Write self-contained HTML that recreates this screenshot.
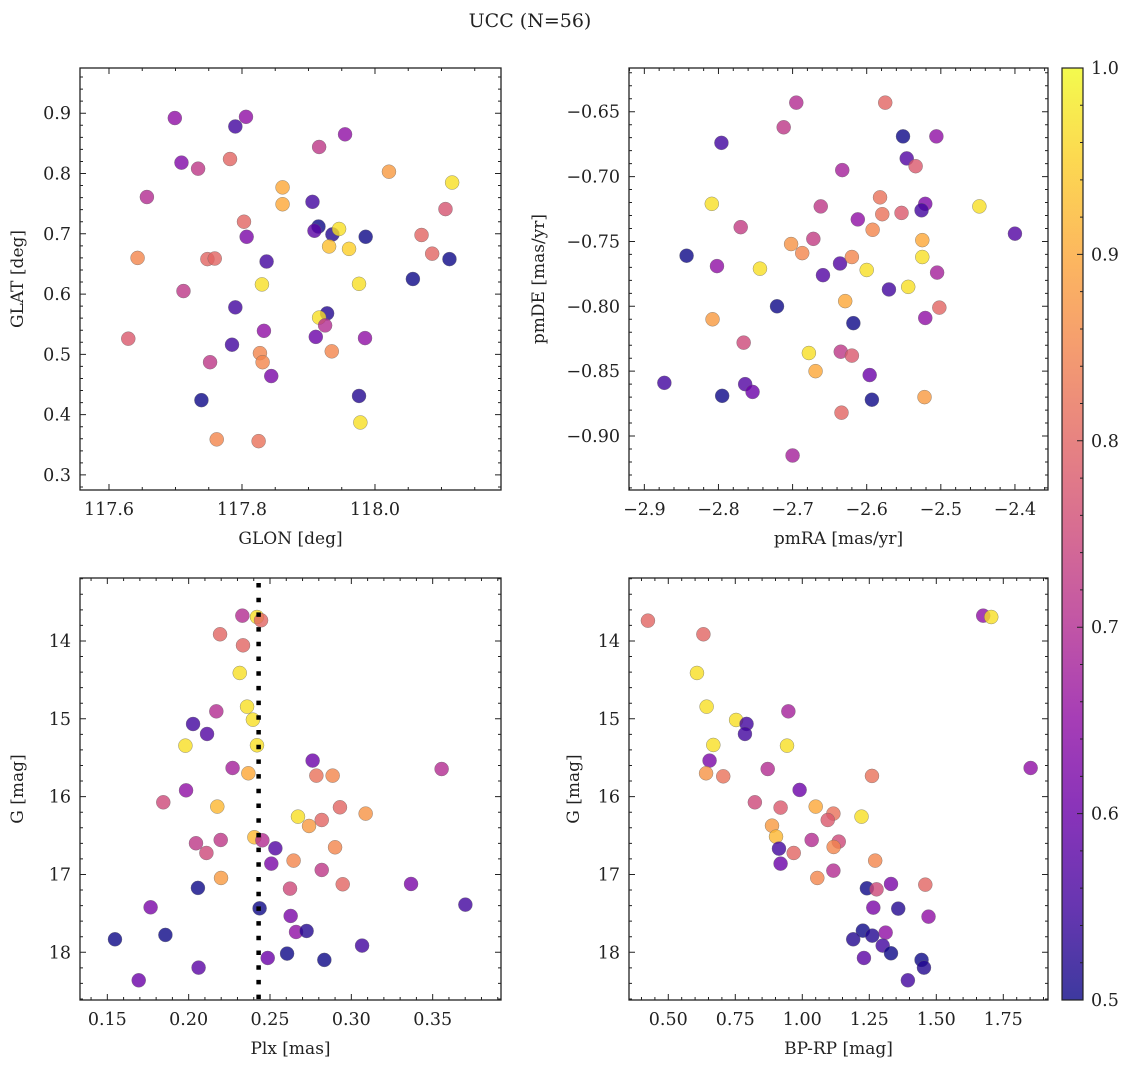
<!DOCTYPE html>
<html><head><meta charset="utf-8"><title>UCC (N=56)</title>
<style>
html,body{margin:0;padding:0;background:#fff;}
svg text{font-family:"DejaVu Serif","Liberation Serif",serif;fill:#222;}
</style></head>
<body>
<svg id="fig" width="1136" height="1067" viewBox="0 0 1136 1067" xmlns="http://www.w3.org/2000/svg">
<defs>
<linearGradient id="cbgrad" x1="0" y1="1" x2="0" y2="0">
<stop offset="0" stop-color="#0d0887"/><stop offset="0.1" stop-color="#41049d"/><stop offset="0.2" stop-color="#6a00a8"/><stop offset="0.3" stop-color="#8f0da4"/><stop offset="0.4" stop-color="#b12a90"/><stop offset="0.5" stop-color="#cc4778"/><stop offset="0.6" stop-color="#e16462"/><stop offset="0.7" stop-color="#f2844b"/><stop offset="0.8" stop-color="#fca636"/><stop offset="0.9" stop-color="#fcce25"/><stop offset="1" stop-color="#f0f921"/>
</linearGradient>
</defs>
<text x="530" y="27" text-anchor="middle" font-size="19">UCC (N=56)</text>
</svg>
<script>
// ---- Panel 1: GLON vs GLAT ----
const glon = [117.699,117.806,117.790,117.709,117.734,117.782,117.657,117.916,117.955,118.021,118.116,117.861,117.906,117.861,117.803,117.807,118.106,118.070,117.915,117.909,117.936,117.946,117.931,117.961,117.986,118.086,118.112,117.643,117.748,117.759,117.837,117.830,117.976,118.057,117.712,117.790,117.833,117.928,117.916,117.925,117.911,117.985,117.785,117.827,117.831,117.935,117.629,117.752,117.844,117.976,117.739,117.978,117.762,117.825];
const glat = [0.892,0.894,0.878,0.818,0.808,0.824,0.761,0.844,0.865,0.803,0.785,0.777,0.753,0.749,0.720,0.695,0.741,0.698,0.712,0.705,0.699,0.708,0.679,0.675,0.695,0.667,0.658,0.660,0.658,0.659,0.654,0.616,0.617,0.625,0.605,0.578,0.539,0.568,0.561,0.548,0.529,0.527,0.516,0.502,0.487,0.505,0.526,0.487,0.464,0.431,0.424,0.387,0.359,0.356];
const prob1 = [0.65,0.65,0.55,0.63,0.72,0.8,0.7,0.72,0.65,0.88,0.97,0.9,0.55,0.9,0.8,0.62,0.77,0.8,0.5,0.58,0.52,0.97,0.93,0.95,0.5,0.8,0.5,0.85,0.8,0.8,0.55,0.97,0.97,0.5,0.72,0.55,0.65,0.52,0.97,0.7,0.6,0.65,0.55,0.85,0.85,0.85,0.78,0.72,0.62,0.52,0.5,0.97,0.85,0.82];
// ---- Panel 2: pmRA vs pmDE ----
const pmra = [-2.695,-2.712,-2.575,-2.796,-2.551,-2.506,-2.546,-2.534,-2.633,-2.809,-2.448,-2.400,-2.582,-2.521,-2.526,-2.553,-2.579,-2.662,-2.612,-2.770,-2.592,-2.525,-2.672,-2.702,-2.687,-2.843,-2.802,-2.744,-2.636,-2.620,-2.525,-2.659,-2.600,-2.505,-2.570,-2.544,-2.629,-2.721,-2.502,-2.808,-2.618,-2.521,-2.766,-2.678,-2.635,-2.620,-2.669,-2.596,-2.873,-2.764,-2.754,-2.795,-2.593,-2.522,-2.634,-2.700];
const pmde = [-0.643,-0.662,-0.643,-0.674,-0.669,-0.669,-0.686,-0.692,-0.695,-0.721,-0.723,-0.744,-0.716,-0.721,-0.726,-0.728,-0.729,-0.723,-0.733,-0.739,-0.741,-0.749,-0.748,-0.752,-0.759,-0.761,-0.769,-0.771,-0.767,-0.762,-0.762,-0.776,-0.772,-0.774,-0.787,-0.785,-0.796,-0.800,-0.801,-0.810,-0.813,-0.809,-0.828,-0.836,-0.835,-0.838,-0.850,-0.853,-0.859,-0.860,-0.866,-0.869,-0.872,-0.870,-0.882,-0.915];
const prob2 = [0.7,0.72,0.8,0.55,0.5,0.65,0.57,0.78,0.68,0.97,0.97,0.57,0.82,0.62,0.55,0.78,0.82,0.72,0.65,0.73,0.85,0.9,0.73,0.87,0.85,0.5,0.65,0.97,0.57,0.85,0.97,0.57,0.97,0.68,0.55,0.97,0.9,0.5,0.8,0.88,0.5,0.65,0.75,0.97,0.72,0.78,0.9,0.6,0.55,0.57,0.6,0.5,0.5,0.88,0.8,0.68];
// ---- Panel 3: Plx vs G ----
const plx = [0.2330,0.2420,0.2445,0.2193,0.2334,0.2314,0.2359,0.2170,0.2027,0.2113,0.2395,0.2420,0.1980,0.2270,0.2367,0.2762,0.3555,0.2785,0.2885,0.1984,0.1844,0.2176,0.2930,0.3088,0.2672,0.2818,0.2740,0.2404,0.2453,0.2045,0.2197,0.2109,0.2900,0.2533,0.2645,0.2508,0.2818,0.2199,0.2947,0.2623,0.3367,0.2057,0.1766,0.2436,0.3701,0.2627,0.2660,0.2725,0.1547,0.1857,0.3066,0.2605,0.2486,0.2834,0.2061,0.1693];
const gmag3 = [13.675,13.692,13.734,13.914,14.056,14.411,14.844,14.904,15.067,15.195,15.011,15.340,15.345,15.632,15.700,15.537,15.645,15.730,15.730,15.919,16.073,16.128,16.137,16.218,16.257,16.300,16.377,16.522,16.561,16.599,16.557,16.724,16.651,16.664,16.822,16.861,16.942,17.045,17.126,17.182,17.122,17.173,17.422,17.435,17.388,17.533,17.739,17.726,17.833,17.777,17.914,18.017,18.073,18.098,18.197,18.360];
const prob3 = [0.7,0.97,0.8,0.8,0.8,0.97,0.97,0.7,0.55,0.57,0.97,0.97,0.97,0.68,0.9,0.6,0.7,0.82,0.85,0.65,0.75,0.92,0.8,0.87,0.97,0.8,0.88,0.92,0.7,0.72,0.72,0.75,0.85,0.57,0.85,0.62,0.72,0.88,0.8,0.75,0.62,0.5,0.62,0.5,0.55,0.62,0.65,0.52,0.5,0.5,0.55,0.5,0.6,0.5,0.58,0.6];
const plxCut = [0.243];
// ---- Panel 4: BP-RP vs G ----
const bprp = [0.424,0.631,0.607,0.643,0.753,0.792,0.786,0.668,0.948,0.943,0.654,0.641,0.705,0.871,0.990,1.260,0.823,0.919,1.050,1.116,1.095,1.221,0.887,0.902,1.035,1.136,1.117,0.913,0.968,0.919,1.116,1.056,1.272,1.241,1.277,1.331,1.459,1.265,1.358,1.471,1.311,1.226,1.190,1.261,1.300,1.331,1.230,1.445,1.454,1.394,1.675,1.705,1.852];
const gmag4 = [13.739,13.914,14.411,14.844,15.015,15.066,15.195,15.336,14.904,15.345,15.537,15.700,15.739,15.645,15.914,15.734,16.073,16.141,16.128,16.218,16.300,16.257,16.373,16.514,16.557,16.578,16.647,16.668,16.724,16.861,16.951,17.045,16.822,17.178,17.191,17.122,17.131,17.426,17.439,17.542,17.747,17.722,17.833,17.786,17.914,18.013,18.073,18.098,18.197,18.360,13.675,13.692,15.632];
const prob4 = [0.8,0.8,0.97,0.97,0.97,0.55,0.55,0.97,0.68,0.97,0.62,0.87,0.82,0.7,0.6,0.82,0.75,0.78,0.9,0.82,0.78,0.97,0.88,0.92,0.7,0.75,0.85,0.55,0.8,0.6,0.7,0.85,0.85,0.5,0.75,0.62,0.8,0.62,0.52,0.65,0.65,0.5,0.52,0.52,0.55,0.5,0.58,0.5,0.52,0.55,0.65,0.97,0.65];
// ---- tick labels ----
const ticks1x = [117.6,117.8,118.0];
const ticks1xLabels = ["117.6","117.8","118.0"];
const ticks1y = [0.3,0.4,0.5,0.6,0.7,0.8,0.9];
const ticks1yLabels = ["0.3","0.4","0.5","0.6","0.7","0.8","0.9"];
const ticks2x = [-2.9,-2.8,-2.7,-2.6,-2.5,-2.4];
const ticks2xLabels = ["\u22122.9","\u22122.8","\u22122.7","\u22122.6","\u22122.5","\u22122.4"];
const ticks2y = [-0.9,-0.85,-0.8,-0.75,-0.7,-0.65];
const ticks2yLabels = ["\u22120.90","\u22120.85","\u22120.80","\u22120.75","\u22120.70","\u22120.65"];
const ticks3x = [0.15,0.2,0.25,0.3,0.35];
const ticks3xLabels = ["0.15","0.20","0.25","0.30","0.35"];
const ticksGy = [14,15,16,17,18];
const ticksGyLabels = ["14","15","16","17","18"];
const ticks4x = [0.5,0.75,1.0,1.25,1.5,1.75];
const ticks4xLabels = ["0.50","0.75","1.00","1.25","1.50","1.75"];
const cbTicks = [0.5,0.6,0.7,0.8,0.9,1.0];
const cbTickLabels = ["0.5","0.6","0.7","0.8","0.9","1.0"];

const NS = "http://www.w3.org/2000/svg";
const svg = document.getElementById('fig');
const stops = ["#0d0887","#41049d","#6a00a8","#8f0da4","#b12a90","#cc4778","#e16462","#f2844b","#fca636","#fcce25","#f0f921"];
function hex(h){return [parseInt(h.substr(1,2),16),parseInt(h.substr(3,2),16),parseInt(h.substr(5,2),16)];}
function plasma(p){
  let t=(p-0.5)/0.5; t=Math.max(0,Math.min(1,t));
  const f=t*10, i=Math.min(9,Math.floor(f)), u=f-i;
  const a=hex(stops[i]), b=hex(stops[i+1]);
  return "rgb("+a.map((v,k)=>Math.round(v+(b[k]-v)*u)).join(",")+")";
}
function el(tag, attrs, parent){
  const e=document.createElementNS(NS,tag);
  for(const k in attrs) e.setAttribute(k,attrs[k]);
  (parent||svg).appendChild(e); return e;
}
function scale(d0,d1,r0,r1){return v=>r0+(v-d0)/(d1-d0)*(r1-r0);}

function panel(cfg){
  const g=el('g',{});
  
  
  const sx=scale(cfg.xd[0],cfg.xd[1],cfg.x0,cfg.x1);
  const sy=scale(cfg.yd[0],cfg.yd[1],cfg.y0,cfg.y1);
  for(let i=0;i<cfg.xs.length;i++){
    const c=el('circle',{cx:sx(cfg.xs[i]),cy:sy(cfg.ys[i]),r:7,fill:plasma(cfg.ps[i]),'fill-opacity':0.8,stroke:'#666','stroke-width':0.5,'stroke-opacity':0.7},g);
    
    
  }
  if(cfg.vline){
    for(const v of cfg.vline){
      const l=el('line',{x1:sx(v),x2:sx(v),y1:cfg.y0+5,y2:cfg.y1,stroke:'#000','stroke-width':4.5,'stroke-dasharray':'4.5,10.2'},g);
      
      
    }
  }
  const fr=el('rect',{x:cfg.x0,y:cfg.y0,width:cfg.x1-cfg.x0,height:cfg.y1-cfg.y0,fill:'none',stroke:'#222','stroke-width':1.3},g);
  
  
  const xmin=Math.min(cfg.xd[0],cfg.xd[1]), xmax=Math.max(cfg.xd[0],cfg.xd[1]);
  const ymin=Math.min(cfg.yd[0],cfg.yd[1]), ymax=Math.max(cfg.yd[0],cfg.yd[1]);
  let path="";
  for(let k=Math.ceil(xmin/cfg.xminor-1e-9);k*cfg.xminor<=xmax;k++){
    const x=sx(k*cfg.xminor);
    path+=`M${x},${cfg.y1}v-3M${x},${cfg.y0}v3`;
  }
  for(let k=Math.ceil(ymin/cfg.yminor-1e-9);k*cfg.yminor<=ymax;k++){
    const y=sy(k*cfg.yminor);
    path+=`M${cfg.x0},${y}h3M${cfg.x1},${y}h-3`;
  }
  cfg.xt.forEach(v=>{const x=sx(v);path+=`M${x},${cfg.y1}v-6M${x},${cfg.y0}v6`;});
  cfg.yt.forEach(v=>{const y=sy(v);path+=`M${cfg.x0},${y}h6M${cfg.x1},${y}h-6`;});
  const tp=el('path',{d:path,stroke:'#222','stroke-width':1,fill:'none'},g);
  
  
  cfg.xt.forEach((v,i)=>{
    const t=el('text',{x:sx(v),y:cfg.y1+25,'text-anchor':'middle','font-size':17.5},g);
    t.textContent=cfg.xl[i];
    
    
  });
  cfg.yt.forEach((v,i)=>{
    const t=el('text',{x:cfg.x0-9,y:sy(v)+6,'text-anchor':'end','font-size':17.5},g);
    t.textContent=cfg.yl[i];
    
    
  });
  const xt=el('text',{x:(cfg.x0+cfg.x1)/2,y:cfg.y1+54,'text-anchor':'middle','font-size':17},g);
  xt.textContent=cfg.xtitle;
  
  
  const yc=(cfg.y0+cfg.y1)/2;
  const yt=el('text',{x:cfg.ytx,y:yc,'text-anchor':'middle','font-size':17,transform:`rotate(-90 ${cfg.ytx} ${yc})`},g);
  yt.textContent=cfg.ytitle;
  
  
}

panel({name:'glon-glat-panel',x0:80,x1:501,y0:68,y1:490,xd:[117.5564,118.1895],yd:[0.975,0.275],
  xs:glon,ys:glat,ps:prob1,xt:ticks1x,xl:ticks1xLabels,yt:ticks1y,yl:ticks1yLabels,xminor:0.05,yminor:0.02,
  xtitle:'GLON [deg]',ytitle:'GLAT [deg]',ytx:23});
panel({name:'pm-panel',x0:629,x1:1048,y0:68,y1:490,xd:[-2.9207,-2.3554],yd:[-0.6163,-0.9416],
  xs:pmra,ys:pmde,ps:prob2,xt:ticks2x,xl:ticks2xLabels,yt:ticks2y,yl:ticks2yLabels,xminor:0.02,yminor:0.01,
  xtitle:'pmRA [mas/yr]',ytitle:'pmDE [mas/yr]',ytx:544});
panel({name:'plx-g-panel',x0:80,x1:501,y0:578,y1:1000,xd:[0.1332,0.392],yd:[13.191,18.613],
  xs:plx,ys:gmag3,ps:prob3,xt:ticks3x,xl:ticks3xLabels,yt:ticksGy,yl:ticksGyLabels,xminor:0.01,yminor:0.2,
  xtitle:'Plx [mas]',ytitle:'G [mag]',ytx:23,vline:plxCut});
panel({name:'cmd-panel',x0:629,x1:1048,y0:578,y1:1000,xd:[0.3534,1.9168],yd:[13.191,18.613],
  xs:bprp,ys:gmag4,ps:prob4,xt:ticks4x,xl:ticks4xLabels,yt:ticksGy,yl:ticksGyLabels,xminor:0.05,yminor:0.2,
  xtitle:'BP-RP [mag]',ytitle:'G [mag]',ytx:579});

(function(){
  const g=el('g',{});
  
  
  const cy=scale(0.5,1.0,1000,68);
  el('rect',{x:1062,y:68,width:21,height:932,fill:'url(#cbgrad)','fill-opacity':0.8},g);
  el('rect',{x:1062,y:68,width:21,height:932,fill:'none',stroke:'#222','stroke-width':1.2},g);
  let d="";
  for(let k=25;k<=50;k++){const y=cy(k*0.02);d+=`M1083,${y}h-3`;}
  cbTicks.forEach(v=>{d+=`M1083,${cy(v)}h-6`;});
  el('path',{d:d,stroke:'#222','stroke-width':1},g);
  cbTicks.forEach((v,i)=>{
    const t=el('text',{x:1091,y:cy(v)+6,'font-size':17.5},g);
    t.textContent=cbTickLabels[i];
    
    
  });
})();
</script>
</body></html>
